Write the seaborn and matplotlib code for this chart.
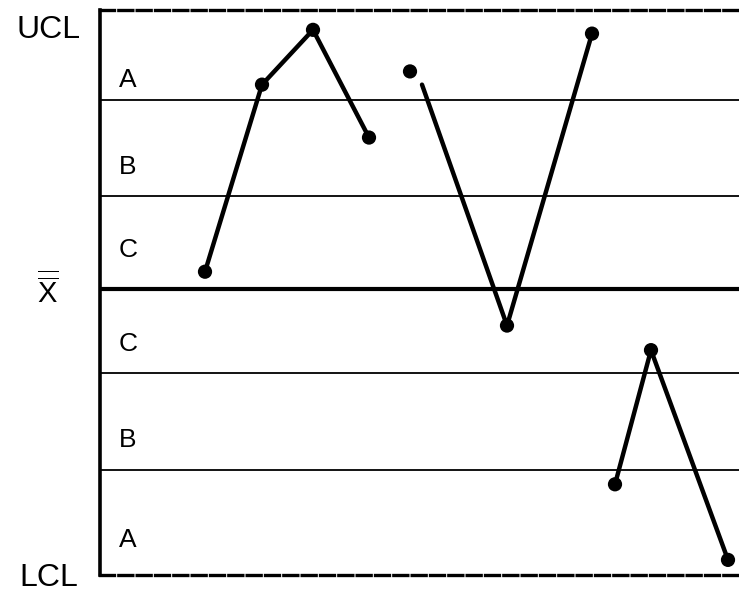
import numpy as np
import matplotlib
matplotlib.use('Agg')
import matplotlib.pyplot as plt
import seaborn as sns

sns.set_style('white')
plt.rcParams['font.family'] = ['Liberation Sans', 'DejaVu Sans']
plt.rcParams['mathtext.fontset'] = 'custom'
plt.rcParams['mathtext.rm'] = 'Liberation Sans'
plt.rcParams['text.color'] = 'black'

# data, in sigma units around the grand mean (x is sample position)
zone_lines = [2.0, 0.98, -0.89, -1.92]
center_line = 0.0
ucl, lcl = 2.95, -3.03

seg1_x = [105, 162, 213, 269]
seg1_y = [0.18, 2.16, 2.74, 1.60]
seg2_pt_x = [310, 407, 492]
seg2_pt_y = [2.30, -0.39, 2.70]
seg2_line_x = [322, 407, 492]
seg2_line_y = [2.16, -0.39, 2.70]
seg3_x = [515, 551, 628]
seg3_y = [-2.07, -0.65, -2.87]

zone_labels = ['A', 'B', 'C', 'C', 'B', 'A']
zone_label_y = [2.21, 1.29, 0.41, -0.59, -1.60, -2.66]

fig = plt.figure(figsize=(7.39, 5.96), dpi=100)
ax = fig.add_axes([100 / 739, 21 / 596, 639 / 739, 565 / 596])

for y in zone_lines:
    ax.axhline(y, color='black', lw=1.3)
ax.axhline(center_line, color='black', lw=3.0)

lw = 3.2
sns.lineplot(x=seg1_x, y=seg1_y, sort=False, color='black', lw=lw, ax=ax)
sns.lineplot(x=seg2_line_x, y=seg2_line_y, sort=False, color='black', lw=lw, ax=ax)
sns.lineplot(x=seg3_x, y=seg3_y, sort=False, color='black', lw=lw, ax=ax)
pts_x = seg1_x + seg2_pt_x + seg3_x
pts_y = seg1_y + seg2_pt_y + seg3_y
sns.scatterplot(x=pts_x, y=pts_y, color='black', s=105, edgecolor='none',
                ax=ax, zorder=5)

ax.set_xlim(0, 639)
ax.set_ylim(lcl, ucl)
ax.set_xticks([])
ax.set_yticks([])

ax.spines['right'].set_visible(False)
ax.spines['left'].set_linewidth(2.6)
for s in ['top', 'bottom']:
    ax.spines[s].set_linewidth(2.4)
    ax.spines[s].set_linestyle((0, (4.2, 1.3)))
for s in ax.spines.values():
    s.set_color('black')

for lab, y in zip(zone_labels, zone_label_y):
    ax.text(28, y, lab, fontsize=19, ha='center', va='center')

ax.text(-51, 2.74, 'UCL', fontsize=23, ha='center', va='center', clip_on=False)
ax.text(-51, -3.06, 'LCL', fontsize=23, ha='center', va='center', clip_on=False)
ax.text(-52, -0.02, r'$\overline{\overline{\mathrm{X}}}$', fontsize=21,
        ha='center', va='center', clip_on=False)

fig.savefig('out.png', dpi=100)
